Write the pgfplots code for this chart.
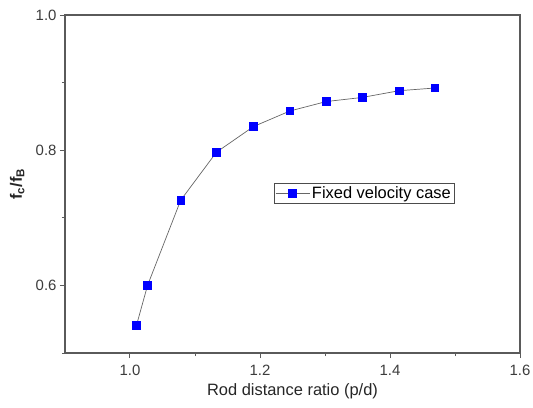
\documentclass[border=0pt]{standalone}
\usepackage{fontspec}
\setmainfont{Liberation Sans}
\usepackage{pgfplots}
\pgfplotsset{compat=1.18}
\definecolor{axgray}{RGB}{90,90,90}
\definecolor{txtgray}{RGB}{60,60,60}
\begin{document}
\begin{tikzpicture}[x=1bp,y=1bp]
\begin{axis}[
  at={(0bp,0bp)}, anchor=south west,
  scale only axis, width=455bp, height=338bp,
  xmin=0.9, xmax=1.6, ymin=0.5, ymax=1.0,
  xtick={1.0,1.2,1.4,1.6}, ytick={0.6,0.8,1.0},
  minor xtick={1.1,1.3,1.5}, minor ytick={0.5,0.7,0.9},
  xticklabels={1.0,1.2,1.4,1.6}, yticklabels={0.6,0.8,1.0},
  tick align=outside, xtick pos=left, ytick pos=left,
  major tick length=5bp, minor tick length=3bp,
  axis line style={axgray, line width=1.2bp},
  every tick/.style={axgray, line width=1bp},
  tick label style={font=\fontsize{15}{18}\selectfont, text=txtgray},
  xticklabel style={yshift=-4bp},
  xlabel={Rod distance ratio (p/d)},
  ylabel={\textbf{f\textsubscript{c}/f\textsubscript{B}}},
  label style={font=\fontsize{16.5}{19}\selectfont, text=black!85},
  xlabel style={at={(axis description cs:0.5,0)}, anchor=north, yshift=-27bp},
  ylabel style={at={(axis description cs:0,0.5)}, anchor=south, yshift=37bp},
  legend style={at={(axis cs:1.2215,0.751)}, anchor=north west,
    draw=black!70, line width=0.6bp, inner sep=1bp,
    font=\fontsize{16.5}{19}\selectfont, row sep=0bp},
  legend cell align=left,
  legend image code/.code={
    \draw[#1, mark repeat=2, mark phase=2]
      plot coordinates {(0bp,0bp) (17bp,0bp) (34bp,0bp)};
  },
]
\addplot[color=black!60, line width=0.7bp, mark=square*, mark size=3.8bp,
  mark options={fill=blue, draw=blue, solid}]
coordinates {
(1.010,0.541)
(1.027,0.600)
(1.078,0.726)
(1.133,0.797)
(1.190,0.835)
(1.246,0.858)
(1.302,0.872)
(1.357,0.878)
(1.414,0.888)
(1.469,0.892)
};
\addlegendentry{Fixed velocity case}
\end{axis}
\pgfresetboundingbox
\path (-65bp,-55bp) rectangle (468bp,353bp);
\end{tikzpicture}
\end{document}
